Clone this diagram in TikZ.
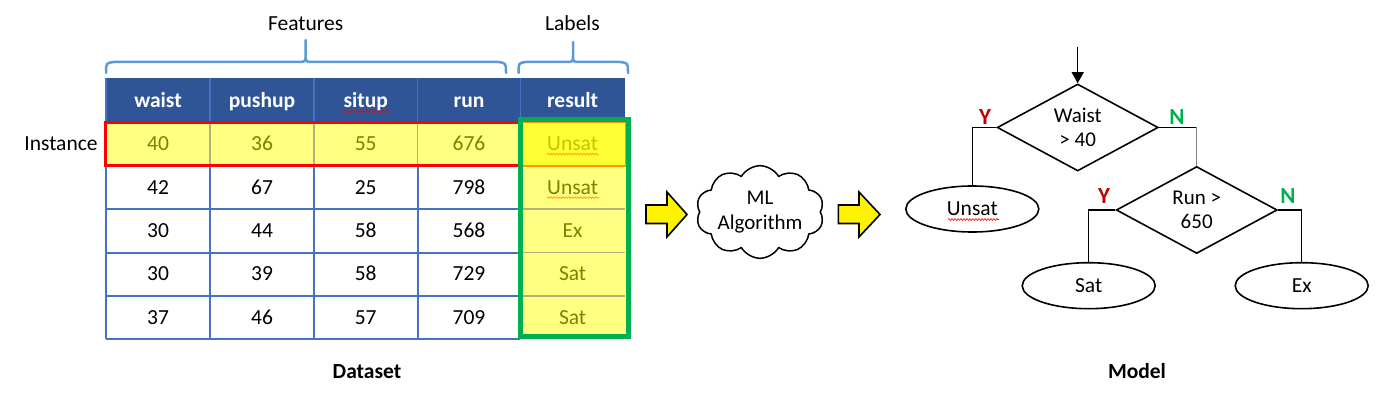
\documentclass[tikz,border=0pt]{standalone}
\usepackage{fontspec}
\setmainfont{Carlito}
\usetikzlibrary{shapes.geometric,shapes.symbols,arrows.meta,decorations.pathmorphing}
\definecolor{hdr}{HTML}{2F5597}
\definecolor{gridblue}{HTML}{4472C4}
\definecolor{braceblue}{HTML}{5B9BD5}
\definecolor{cellyel}{HTML}{FFFF80}
\definecolor{brightyel}{HTML}{FFFF33}
\definecolor{olive}{HTML}{7F7F00}
\definecolor{lightolive}{HTML}{C4C400}
\definecolor{sepgray}{HTML}{B0B080}
\definecolor{boxgreen}{HTML}{00B050}
\definecolor{ylab}{HTML}{C00000}
\definecolor{nlab}{HTML}{00B050}
\definecolor{orng}{HTML}{FF9900}
\begin{document}
\begin{tikzpicture}[x=1pt,y=-1pt,
  every node/.style={font=\fontsize{21.5}{24}\selectfont, inner sep=0pt},
  one/.style={text height=13.8pt, text depth=0pt},
  hd/.style={one, text=white, font=\fontsize{21.5}{24}\selectfont\bfseries},
  od/.style={text=olive},
  gridline/.style={draw=gridblue, line width=2pt},
  seprow/.style={draw=sepgray, line width=1.5pt},
  bracestyle/.style={draw=braceblue, line width=2.5pt, line cap=round},
  wavy/.style={draw=red, line width=0.6pt, decorate, decoration={snake, amplitude=0.9pt, segment length=3pt}},
  blockarrow/.style={draw=black, fill=yellow, line width=1.6pt, line join=miter},
  dec/.style={diamond, draw, line width=1.6pt, minimum width=161pt, minimum height=87pt, align=center, aspect=1.85,
     font=\fontsize{21}{24.5}\selectfont},
  leaf/.style={one, ellipse, draw, line width=1.6pt, minimum width=133pt, minimum height=46pt},
  conn/.style={draw, line width=1.3pt},
  yn/.style={one, font=\fontsize{23}{24}\selectfont\bfseries, text height=15pt}
]
\useasboundingbox (0,0) rectangle (1381,414);

% ---------- table fills ----------
\fill[hdr] (105.7,78) rectangle (625,122);
\fill[cellyel] (105.7,122) rectangle (625,165.7);
\fill[cellyel] (520,165.7) rectangle (625,339);

% header separators
\foreach \x in {210.2,313.9,417.5,520.3}
  \draw[gridblue, line width=1.5pt] (\x,78) -- (\x,122);
% row 1 separators
\foreach \x in {210.2,313.9,417.5}
  \draw[sepgray, line width=1.5pt] (\x,122) -- (\x,165.7);
% blue grid rows 2-5
\foreach \x in {105.7,210.2,313.9,417.5,520.3}
  \draw[gridline] (\x,165.7) -- (\x,339);
\draw[gridline] (105.7,78) -- (105.7,339);
\foreach \y in {209,252.5,296,339}
  \draw[gridline] (105.7,\y) -- (520.3,\y);
\foreach \y in {209,252.5,296}
  \draw[seprow] (520.3,\y) -- (625,\y);

% red instance box
\draw[red, line width=2.5pt] (105.7,122.7) rectangle (519,165.7);
% bright result cell of row 1
\draw[orng, fill=brightyel, line width=1.2pt] (522.5,122.5) rectangle (625.5,166);
% green labels box
\draw[boxgreen, line width=5pt] (520,120) rectangle (628,336.5);

% ---------- table text ----------
\node[hd] (h1) at (158,100.5) {waist};
\node[hd] (h2) at (262,100.5) {pushup};
\node[hd] (h3) at (365.7,100.5) {situp};
\node[hd] (h4) at (469,100.5) {run};
\node[hd] (h5) at (572.6,100.5) {result};
\draw[wavy] (342,111.5) -- (390,111.5);

\tikzset{every node/.append style={one}}
\node[od] (r1c1) at (158,144) {40};
\node[od] (r1c2) at (262,144) {36};
\node[od] (r1c3) at (365.7,144) {55};
\node[od] (r1c4) at (469,144) {676};
\node[text=lightolive] (r1c5) at (572.6,144) {Unsat};
\draw[wavy, draw=orng] (r1c5.south west) ++(0,3) -- ++(52,0);

\node (r2c1) at (158,187.5) {42};
\node (r2c2) at (262,187.5) {67};
\node (r2c3) at (365.7,187.5) {25};
\node (r2c4) at (469,187.5) {798};
\node[od] (r2c5) at (572.6,187.5) {Unsat};
\draw[wavy, draw=orng] (r2c5.south west) ++(0,3) -- ++(52,0);

\node (r3c1) at (158,230.5) {30};
\node (r3c2) at (262,230.5) {44};
\node (r3c3) at (365.7,230.5) {58};
\node (r3c4) at (469,230.5) {568};
\node[od] (r3c5) at (572.6,230.5) {Ex};

\node (r4c1) at (158,274) {30};
\node (r4c2) at (262,274) {39};
\node (r4c3) at (365.7,274) {58};
\node (r4c4) at (469,274) {729};
\node[od] (r4c5) at (572.6,274) {Sat};

\node (r5c1) at (158,317.5) {37};
\node (r5c2) at (262,317.5) {46};
\node (r5c3) at (365.7,317.5) {57};
\node (r5c4) at (469,317.5) {709};
\node[od] (r5c5) at (572.6,317.5) {Sat};

% ---------- braces and labels ----------
\draw[bracestyle] (106,73) .. controls (106,63) .. (114,62) -- (298,62)
  .. controls (305.6,62) .. (305.6,54) -- (305.6,40)
  (305.6,54) .. controls (305.6,62) .. (313,62) -- (498,62) .. controls (506,63) .. (506,73);
\draw[bracestyle] (518.5,73) .. controls (518.5,63) .. (526,62) -- (566,62)
  .. controls (573,62) .. (573,55) -- (573,42)
  (573,55) .. controls (573,62) .. (580,62) -- (620,62) .. controls (628,63) .. (628,73);
\node (feat) at (305.6,24) {Features};
\node (labs) at (572.5,24) {Labels};
\node (inst) at (61,143.5) {Instance};
\node[font=\fontsize{21.5}{24}\selectfont\bfseries] (dset) at (367,372) {Dataset};
\node[font=\fontsize{21.5}{24}\selectfont\bfseries] (model) at (1137,372) {Model};

% ---------- block arrows and cloud ----------
\draw[blockarrow] (646,205) -- (667,205) -- (667,192) -- (687,214.5) -- (667,237) -- (667,223.5) -- (646,223.5) -- cycle;
\node[cloud, draw, line width=1.5pt, fill=white, cloud puffs=10, cloud puff arc=120, aspect=1.6,
      minimum width=128pt, minimum height=78pt, align=center, text height=, text depth=,
      font=\fontsize{21}{25.5}\selectfont] (ml) at (760,212) {ML\\Algorithm};
\draw[blockarrow] (838.3,205) -- (859,205) -- (859,192) -- (880,214.5) -- (859,237) -- (859,223.5) -- (838.3,223.5) -- cycle;

% ---------- decision tree ----------
\node[dec, text height=, text depth=] (d1) at (1077.7,127.5) {Waist\\> 40};
\node[dec, text height=, text depth=] (d2) at (1196.7,210) {Run >\\650};
\node[leaf] (unsat) at (972.3,209) {Unsat};
\node[leaf] (sat) at (1088.7,285.7) {Sat};
\node[leaf] (ex) at (1301.7,285.7) {Ex};
\draw[wavy] (948,219.5) -- (999,219.5);

\coordinate (start) at (1077.7,46.7);
\draw[conn, -{Triangle[length=11pt,width=12pt]}] (start) -- (d1.north);
\draw[conn] (d1.west) -| (unsat.north);
\draw[conn] (d1.east) -- (d1.east -| d2.north);
\draw[conn, draw=gray] (d1.east -| d2.north) -- (d2.north);
\draw[conn] (d2.west) -| (sat.north);
\draw[conn] (d2.east) -| (ex.north);

\node[yn, text=ylab] (y1) at (985,117) {Y};
\node[yn, text=nlab] (n1) at (1177,117) {N};
\node[yn, text=ylab] (y2) at (1104,196) {Y};
\node[yn, text=nlab] (n2) at (1288,196) {N};
\end{tikzpicture}
\end{document}
